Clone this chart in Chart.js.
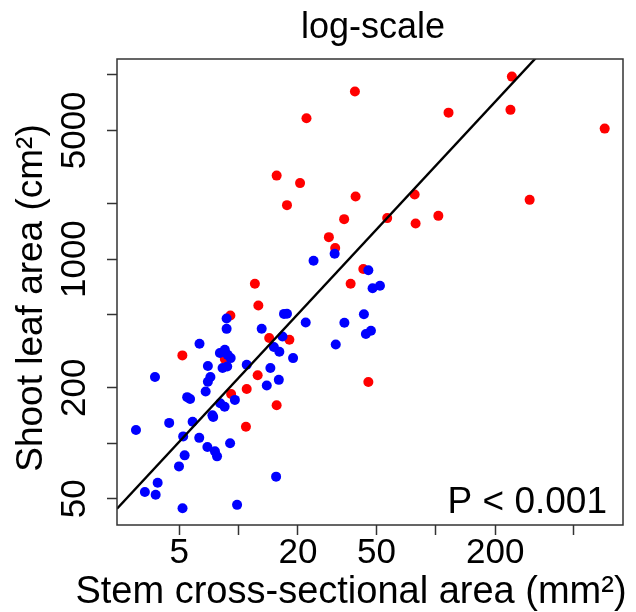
<!DOCTYPE html>
<html><head><meta charset="utf-8">
<script src="https://cdn.jsdelivr.net/npm/chart.js@4.4.1/dist/chart.umd.min.js"></script>
<style>html,body{margin:0;padding:0;background:#fff;}canvas{display:block;}</style>
</head><body>
<canvas id="c" width="636" height="612"></canvas>
<script>
// ---- data ----
const redX = [38.9, 22.1, 15.6, 20.5, 39.2, 17.6, 34.3, 28.7, 30.9, 12.1, 37.0, 42.9, 243, 116, 239, 718, 78.1, 299, 56.7, 79.0, 103, 12.6, 9.09, 5.19, 8.52, 14.3, 18.1, 12.5, 11.0, 9.17, 15.6, 10.9, 45.5];
const redY = [8120, 5820, 2840, 2585, 2186, 1963, 1648, 1316, 1147, 735, 735, 883, 9790, 6240, 6460, 5110, 2241, 2097, 1669, 1560, 1717, 560, 494, 300, 287, 373, 365, 234, 197, 185, 161, 123, 215];
const blueX = [24.0, 30.7, 45.5, 47.8, 52.1, 43.2, 44.2, 46.9, 8.70, 8.70, 6.34, 13.1, 17.0, 17.6, 21.9, 34.4, 31.1, 16.7, 15.1, 16.1, 18.9, 8.04, 8.52, 8.80, 9.12, 6.99, 8.30, 8.76, 11.0, 14.5, 7.20, 6.99, 16.0, 13.9, 3.77, 6.81, 5.49, 5.68, 9.58, 8.07, 8.50, 7.37, 7.44, 4.45, 5.85, 3.02, 5.24, 6.32, 9.06, 6.95, 7.59, 7.78, 5.33, 4.99, 3.89, 3.35, 3.80, 5.20, 9.83, 15.5];
const blueY = [979, 1068, 869, 694, 716, 502, 392, 408, 476, 418, 347, 419, 504, 505, 453, 451, 344, 380, 333, 314, 290, 309, 322, 302, 290, 263, 256, 261, 267, 256, 229, 216, 221, 206, 229, 191, 178, 174, 172, 165, 158, 142, 139, 129, 131, 118, 109, 107, 100, 95.5, 90.4, 84.9, 86.0, 74.9, 61.1, 54.4, 52.6, 44.4, 46.3, 65.9];
const xTickValues = [5, 10, 20, 50, 100, 200, 500];
const xTickLabels = ['5', '', '20', '50', '', '200', ''];
const yTickValues = [50, 100, 200, 500, 1000, 2000, 5000, 10000];
const yTickLabels = ['50', '', '200', '', '1000', '', '5000', ''];
const xRange = [2.42, 889];
const yRange = [36, 12200];
const regIntercept = 1.202;   // log10(y) = a + b*log10(x)
const regSlope = 1.1527;
const titleText = 'log-scale';
const xTitle = 'Stem cross-sectional area (mm²)';
const yTitle = 'Shoot leaf area (cm²)';
const pText = 'P < 0.001';

// ---- chart ----
const FONT = "'Liberation Sans', Arial, Helvetica, sans-serif";
const pts = (xs, ys) => xs.map((x, i) => ({x: x, y: ys[i]}));
const lineData = xRange.map(x => ({x: x, y: Math.pow(10, regIntercept + regSlope * Math.log10(x))}));

const textPlugin = {
  id: 'texts',
  afterDraw(chart) {
    const {ctx, chartArea: a} = chart;
    ctx.save();
    ctx.strokeStyle = '#333';
    ctx.lineWidth = 1.5;
    ctx.strokeRect(a.left, a.top, a.right - a.left, a.bottom - a.top);
    ctx.fillStyle = '#000';
    ctx.textBaseline = 'alphabetic';
    ctx.textAlign = 'center';
    ctx.font = '36px ' + FONT;
    ctx.fillText(titleText, (a.left + a.right) / 2 + 3, 38);
    ctx.font = '38px ' + FONT;
    ctx.fillText(xTitle, 351, 603);
    ctx.font = '37px ' + FONT;
    ctx.save();
    ctx.translate(42, 298);
    ctx.rotate(-Math.PI / 2);
    ctx.fillText(yTitle, 0, 0);
    ctx.restore();
    ctx.textAlign = 'right';
    ctx.fillText(pText, a.right - 16, 513);
    ctx.restore();
  }
};

const gridOpts = {display: true, drawOnChartArea: false, drawTicks: true, tickLength: 10, tickWidth: 1.5, tickColor: '#333'};

new Chart(document.getElementById('c'), {
  type: 'scatter',
  data: {
    datasets: [
      {label: 'fit', data: lineData, showLine: true, borderColor: '#000', borderWidth: 2.4, pointRadius: 0, pointHoverRadius: 0, order: 0},
      {label: 'blue', data: pts(blueX, blueY), backgroundColor: '#0000ff', borderWidth: 0, pointRadius: 5, pointHoverRadius: 5, order: 1},
      {label: 'red', data: pts(redX, redY), backgroundColor: '#ff0000', borderWidth: 0, pointRadius: 5, pointHoverRadius: 5, order: 2}
    ]
  },
  options: {
    responsive: false,
    animation: false,
    devicePixelRatio: 1,
    layout: {padding: {top: 59, right: 13, left: 0, bottom: 0}},
    plugins: {legend: {display: false}, title: {display: false}, tooltip: {enabled: false}},
    scales: {
      x: {
        type: 'logarithmic', min: xRange[0], max: xRange[1], bounds: 'data',
        grid: gridOpts, border: {display: false},
        afterBuildTicks: s => { s.ticks = xTickValues.map(v => ({value: v})); },
        afterFit: s => { s.height = 87; },
        ticks: {
          autoSkip: false, maxRotation: 0, minRotation: 0, padding: -3, color: '#000',
          font: {family: FONT, size: 35},
          callback: (v) => { const i = xTickValues.indexOf(v); return i >= 0 ? xTickLabels[i] : ''; }
        }
      },
      y: {
        type: 'logarithmic', min: yRange[0], max: yRange[1], bounds: 'data',
        grid: gridOpts, border: {display: false},
        afterBuildTicks: s => { s.ticks = yTickValues.map(v => ({value: v})); },
        afterFit: s => { s.width = 117; },
        ticks: {
          autoSkip: false, minRotation: 90, maxRotation: 90, crossAlign: 'center', padding: -7, color: '#000',
          font: {family: FONT, size: 35},
          callback: (v) => { const i = yTickValues.indexOf(v); return i >= 0 ? yTickLabels[i] : ''; }
        }
      }
    }
  },
  plugins: [textPlugin]
});
</script>
</body></html>
